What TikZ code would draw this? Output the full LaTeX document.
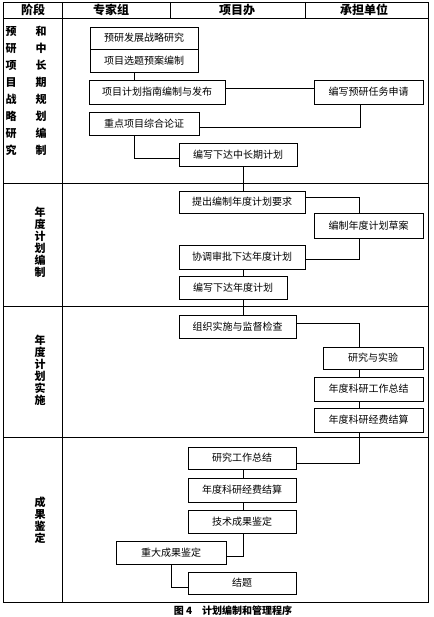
\documentclass[tikz,border=0pt]{standalone}
\usepackage{fontspec}
\setmainfont{Noto Sans CJK SC}
\begin{document}
\begin{tikzpicture}[x=1pt,y=-1pt,
  line width=0.8pt,
  box/.style={draw, inner sep=0pt, font=\fontsize{10}{12}\selectfont},
  hdr/.style={font=\fontsize{12}{14}\selectfont\bfseries, inner sep=0pt},
  stagea/.style={font=\fontsize{11}{17}\selectfont\bfseries, align=center, inner sep=0pt},
  stageb/.style={font=\fontsize{11}{12}\selectfont\bfseries, align=center, inner sep=0pt},
  captext/.style={font=\fontsize{10}{12}\selectfont\bfseries, inner sep=0pt}
]
\useasboundingbox (0,0) rectangle (433,617);
% table
\draw (3,2) rectangle (428,602);
\draw (3,18) -- (428,18);
\draw (3,183) -- (428,183);
\draw (3,306) -- (428,306);
\draw (3,437) -- (428,437);
\draw (62,2) -- (62,602);
\draw (170,2) -- (170,18);
\draw (305,2) -- (305,18);
% header
\node[hdr] (h1) at (33,10) {阶段};
\node[hdr] (h2) at (111,10) {专家组};
\node[hdr] (h3) at (237,10) {项目办};
\node[hdr] (h4) at (364,10) {承担单位};
% stage labels
\node[stagea] (s1a) at (11,91) {预\\研\\项\\目\\战\\略\\研\\究};
\node[stagea] (s1b) at (41,91) {和\\中\\长\\期\\规\\划\\编\\制};
\node[stageb] (s2) at (40,242) {年\\度\\计\\划\\编\\制};
\node[stageb] (s3) at (40,370) {年\\度\\计\\划\\实\\施};
\node[stageb] (s4) at (40,520) {成\\果\\鉴\\定};
% row 1
\node[box, minimum width=108pt, minimum height=22pt] (b1) at (144,38) {预研发展战略研究};
\node[box, minimum width=108pt, minimum height=23pt] (b2) at (144,60.5) {项目选题预案编制};
\node[box, minimum width=136pt, minimum height=24pt] (b3) at (157,92) {项目计划指南编制与发布};
\node[box, minimum width=109pt, minimum height=24pt] (b4) at (368.5,92) {编写预研任务申请};
\node[box, minimum width=110pt, minimum height=23pt] (b5) at (144,123.5) {重点项目综合论证};
\node[box, minimum width=118pt, minimum height=23pt] (b6) at (238,154.5) {编写下达中长期计划};
% row 2
\node[box, minimum width=126pt, minimum height=22pt] (c1) at (242,202) {提出编制年度计划要求};
\node[box, minimum width=109pt, minimum height=25pt] (c2) at (368.5,225.5) {编制年度计划草案};
\node[box, minimum width=126pt, minimum height=24pt] (c3) at (242,257) {协调审批下达年度计划};
\node[box, minimum width=108pt, minimum height=23pt] (c4) at (233,287.5) {编写下达年度计划};
% row 3
\node[box, minimum width=117pt, minimum height=23pt] (d1) at (237.5,326.5) {组织实施与监督检查};
\node[box, minimum width=100pt, minimum height=22pt] (d2) at (373,358) {研究与实验};
\node[box, minimum width=109pt, minimum height=24pt] (d3) at (368.5,389) {年度科研工作总结};
\node[box, minimum width=109pt, minimum height=24pt] (d4) at (368.5,420) {年度科研经费结算};
% row 4
\node[box, minimum width=108pt, minimum height=22pt] (e1) at (242,458) {研究工作总结};
\node[box, minimum width=108pt, minimum height=24pt] (e2) at (242,490) {年度科研经费结算};
\node[box, minimum width=108pt, minimum height=23pt] (e3) at (242,521.5) {技术成果鉴定};
\node[box, minimum width=110pt, minimum height=23pt] (e4) at (171,552.5) {重大成果鉴定};
\node[box, minimum width=108pt, minimum height=22pt] (e5) at (242,583) {结题};
% caption
\node[captext] (cp) at (233,611) {图 4\hspace{1em}计划编制和管理程序};
% helper coordinates
\coordinate (v134) at (134,0);
\coordinate (v360) at (360,0);
\coordinate (v243) at (243,0);
\coordinate (v359) at (359,0);
\coordinate (v171) at (171,0);
\coordinate (h88) at (0,88);
\coordinate (h127) at (0,127);
\coordinate (h158) at (0,158);
\coordinate (h197) at (0,197);
\coordinate (h259) at (0,259);
\coordinate (h323) at (0,323);
\coordinate (h463) at (0,463);
\coordinate (h556) at (0,556);
\coordinate (h587) at (0,587);
% connectors
\draw (b2.south -| v134) -- (b3.north -| v134);
\draw (b3.east |- h88) -- (b4.west |- h88);
\draw (b4.south -| v360) |- (b5.east |- h127);
\draw (b5.south -| v134) |- (b6.west |- h158);
\draw (b6.south -| v243) -- (c1.north -| v243);
\draw (c1.east |- h197) -| (c2.north -| v359);
\draw (c2.south -| v359) |- (c3.east |- h259);
\draw (c3.south -| v243) -- (c4.north -| v243);
\draw (c4.south -| v243) -- (d1.north -| v243);
\draw (d1.east |- h323) -| (d2.north -| v359);
\draw (d2.south -| v359) -- (d3.north -| v359);
\draw (d3.south -| v359) -- (d4.north -| v359);
\draw (d4.south -| v359) |- (e1.east |- h463);
\draw (e1.south -| v243) -- (e2.north -| v243);
\draw (e2.south -| v243) -- (e3.north -| v243);
\draw (e3.south -| v243) |- (e4.east |- h556);
\draw (e4.south -| v171) |- (e5.west |- h587);
\end{tikzpicture}
\end{document}
